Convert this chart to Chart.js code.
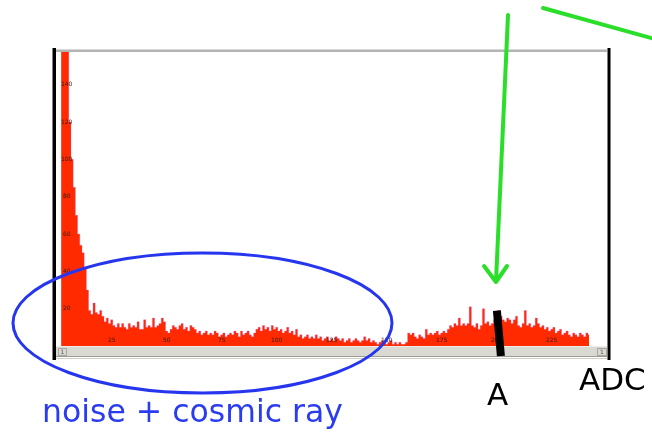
<!DOCTYPE html>
<html>
<head>
<meta charset="utf-8">
<script src="https://cdn.jsdelivr.net/npm/chart.js@4.4.0/dist/chart.umd.min.js"></script>
<style>
  html, body { margin: 0; padding: 0; background: #fff; }
  #wrap { position: relative; width: 652px; height: 433px; }
</style>
</head>
<body>
<div id="wrap"><canvas id="adc-chart" width="652" height="433"></canvas></div>
<script>
// ADC spectrum: counts per channel, starting at channel 2
const firstChannel = 2;
const counts = [
  170, 220, 200, 170, 120, 100, 85, 70, 60, 54,
  50, 42, 30, 19, 17, 23, 18, 17, 19, 16,
  13, 15, 12, 14, 11, 10, 12, 10, 12, 10,
  9, 12, 10, 11, 10, 13, 9, 9, 14, 10,
  11, 10, 15, 10, 11, 12, 15, 13, 8, 7,
  9, 11, 10, 9, 11, 12, 9, 10, 8, 11,
  10, 9, 7, 8, 6, 7, 8, 6, 7, 6,
  8, 7, 5, 6, 7, 5, 6, 7, 6, 8,
  7, 5, 8, 6, 7, 8, 6, 5, 7, 9,
  10, 8, 11, 9, 10, 8, 11, 9, 10, 8,
  9, 7, 8, 10, 7, 8, 6, 9, 5, 6,
  4, 5, 6, 4, 5, 4, 6, 4, 5, 3,
  4, 5, 3, 4, 3, 5, 4, 3, 4, 2,
  3, 4, 2, 3, 4, 3, 2, 3, 5, 3,
  4, 2, 3, 2, 1, 2, 3, 2, 1, 2,
  3, 1, 2, 1, 2, 1, 1, 2, 7, 6,
  7, 5, 4, 6, 5, 4, 9, 6, 7, 6,
  7, 8, 6, 7, 8, 7, 9, 11, 10, 12,
  11, 15, 11, 12, 11, 12, 21, 11, 10, 12,
  9, 11, 20, 12, 13, 11, 12, 14, 15, 19,
  16, 14, 13, 15, 14, 12, 14, 16, 11, 10,
  12, 19, 11, 12, 10, 11, 15, 12, 10, 11,
  9, 10, 8, 9, 10, 7, 8, 9, 6, 7,
  8, 6, 5, 7, 6, 5, 7, 6, 5, 7,
  6
];
const channels = counts.map((_, i) => firstChannel + i);

const xTickLabels = [25, 50, 75, 100, 125, 150, 175, 200, 225];
const yTickLabels = [20, 40, 60, 80, 100, 120, 140];

// signal peak marker "A"
const peakChannel = 201;
const peakCount = 19;

const overlay = {
  id: 'overlay',
  afterDraw(chart) {
    const { ctx, chartArea: area, scales: { x, y } } = chart;
    ctx.save();

    // frame
    ctx.fillStyle = '#b4b4b4';
    ctx.fillRect(56, 49.5, 551, 2.5);
    ctx.fillStyle = '#000';
    ctx.fillRect(52.5, 48, 3.5, 312);
    ctx.fillRect(607.5, 48, 3, 312);

    // scrollbar strip under the plot
    ctx.fillStyle = '#d9d9d1';
    ctx.fillRect(56, area.bottom + 0.5, 551, 10);
    ctx.fillStyle = '#9c9c96';
    ctx.fillRect(56, area.bottom + 10, 551, 1);
    ctx.fillStyle = '#cfcfca';
    ctx.fillRect(56, area.bottom + 12, 551, 1);
    ctx.strokeStyle = '#a8a8a0';
    ctx.lineWidth = 1;
    ctx.strokeRect(58.5, area.bottom + 2.5, 8, 7);
    ctx.strokeRect(597.5, area.bottom + 2.5, 9, 7);
    ctx.fillStyle = '#555';
    ctx.font = '6px "DejaVu Sans"';
    ctx.textAlign = 'center';
    ctx.textBaseline = 'middle';
    ctx.fillText('1', 62.5, area.bottom + 6.5);
    ctx.fillText('1', 602, area.bottom + 6.5);

    // tiny tick labels inside the plot
    ctx.fillStyle = '#3a1a10';
    ctx.font = '6px "DejaVu Sans"';
    xTickLabels.forEach(v => {
      ctx.fillText(String(v), x.getPixelForValue(v), area.bottom - 6);
    });
    yTickLabels.forEach(v => {
      ctx.fillText(String(v), area.left + 10, y.getPixelForValue(v));
    });

    // peak marker
    const px = x.getPixelForValue(peakChannel);
    ctx.strokeStyle = '#000';
    ctx.lineWidth = 8;
    ctx.lineCap = 'butt';
    ctx.beginPath();
    ctx.moveTo(px - 2, y.getPixelForValue(peakCount));
    ctx.lineTo(px + 2, area.bottom + 10);
    ctx.stroke();

    // noise ellipse
    ctx.strokeStyle = '#2536ee';
    ctx.lineWidth = 3;
    ctx.beginPath();
    ctx.ellipse(202.5, 323, 189.5, 70, 0, 0, Math.PI * 2);
    ctx.stroke();

    // green arrow pointing at the peak
    ctx.strokeStyle = '#2ade2a';
    ctx.lineWidth = 4;
    ctx.lineCap = 'round';
    ctx.lineJoin = 'round';
    ctx.beginPath();
    ctx.moveTo(508, 15);
    ctx.lineTo(496, 281);
    ctx.moveTo(484, 266);
    ctx.lineTo(496, 282);
    ctx.lineTo(507, 266);
    ctx.stroke();
    ctx.beginPath();
    ctx.moveTo(543, 8);
    ctx.lineTo(662, 41);
    ctx.stroke();

    // labels
    ctx.textAlign = 'left';
    ctx.textBaseline = 'alphabetic';
    const note = 'noise + cosmic ray';
    ctx.font = '27px "DejaVu Sans"';
    const size = 27 * 301 / ctx.measureText(note).width;
    ctx.font = size.toFixed(1) + 'px "DejaVu Sans"';
    ctx.fillStyle = '#2a3cf0';
    ctx.fillText(note, 42, 422);

    ctx.fillStyle = '#000';
    ctx.font = '31px "DejaVu Sans"';
    ctx.fillText('ADC', 579, 390);
    ctx.fillText('A', 487, 405);

    ctx.restore();
  }
};

new Chart(document.getElementById('adc-chart'), {
  type: 'line',
  data: {
    labels: channels,
    datasets: [{
      label: 'ADC',
      data: counts,
      stepped: 'middle',
      fill: 'origin',
      backgroundColor: '#ff2a00',
      borderColor: 'rgba(205, 95, 200, 0.3)',
      borderWidth: 1,
      pointRadius: 0,
      tension: 0
    }]
  },
  options: {
    responsive: false,
    animation: false,
    devicePixelRatio: 1,
    layout: { padding: { left: 56.7, right: 45.3, top: 51, bottom: 87 } },
    plugins: { legend: { display: false }, tooltip: { enabled: false } },
    scales: {
      x: { type: 'linear', min: 0, max: 250, display: false },
      y: { min: 0, max: 158, display: false }
    }
  },
  plugins: [overlay]
});
</script>
</body>
</html>
